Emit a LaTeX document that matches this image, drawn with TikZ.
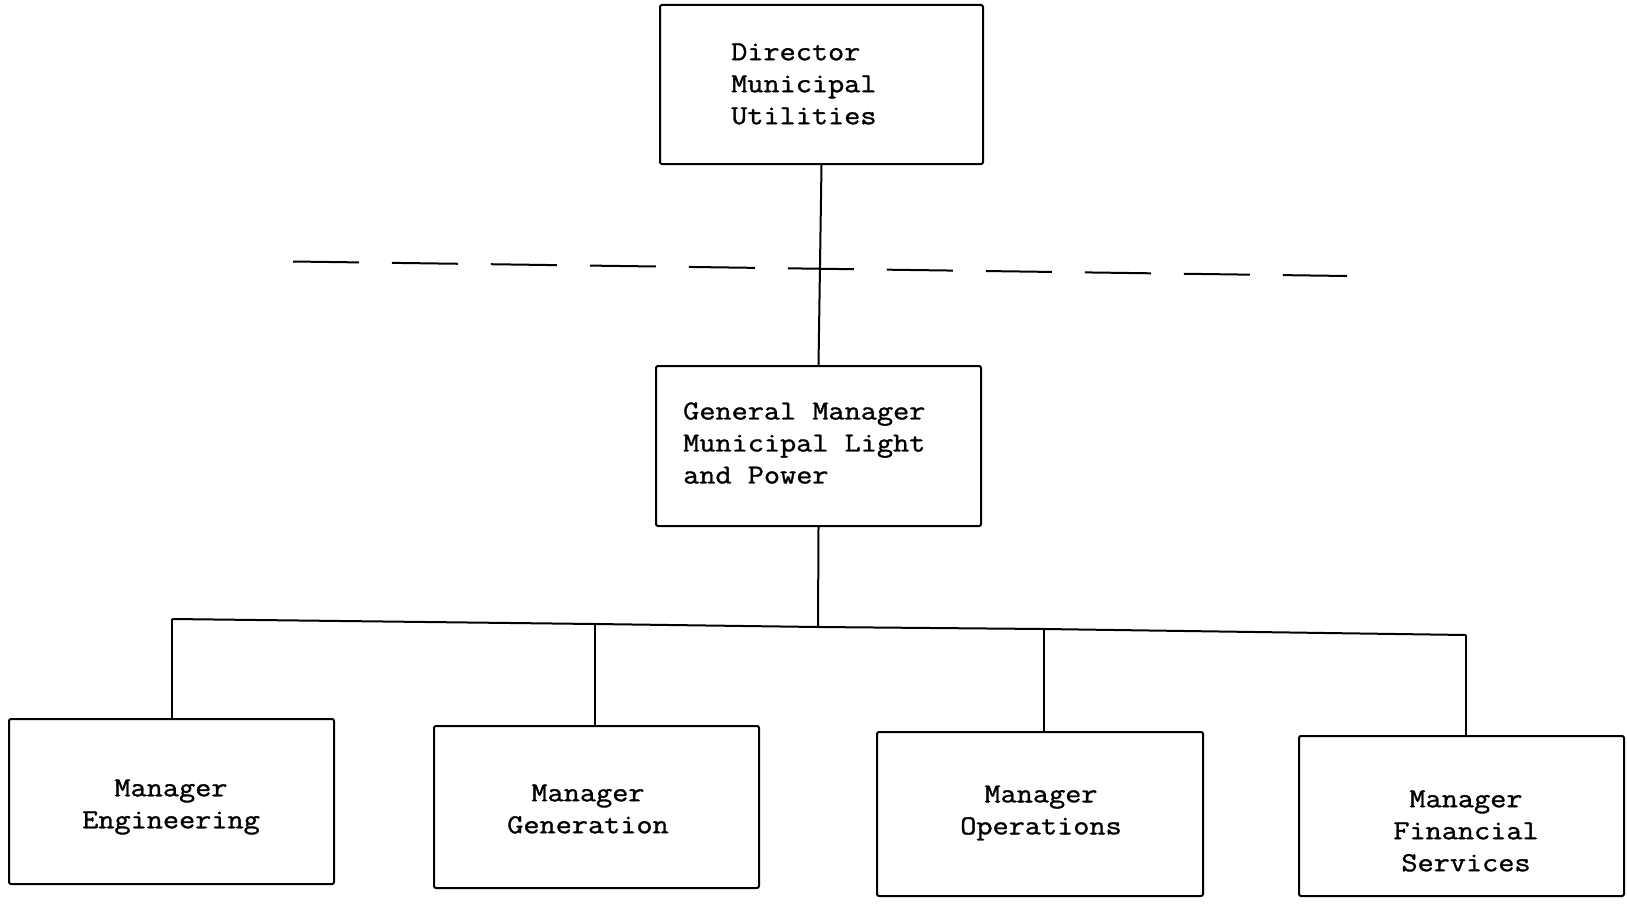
\documentclass[tikz,border=0pt]{standalone}
\usepackage{fontspec}
\newfontfamily\tw{Latin Modern Mono}[FakeStretch=1.14, FakeBold=1.2]
\begin{document}
\begin{tikzpicture}[x=1pt,y=-1pt,
  box/.style={draw, line width=2pt, rounded corners=2pt, inner sep=0pt, anchor=north west},
  txt/.style={font=\tw\fontsize{27.5}{32}\selectfont, inner sep=0pt},
  conn/.style={line width=2pt},
  dashline/.style={line width=2pt, dash pattern=on 66pt off 33pt}]
\useasboundingbox (0,0) rectangle (1627,907);
% boxes
\node[box, minimum width=323pt, minimum height=159pt] (dir) at (659,4) {};
\node[box, minimum width=325pt, minimum height=160pt] (gm) at (655,365) {};
\node[box, minimum width=325pt, minimum height=165pt] (eng) at (8,718) {};
\node[box, minimum width=325pt, minimum height=162pt] (gen) at (433,725) {};
\node[box, minimum width=326pt, minimum height=164pt] (ops) at (876,731) {};
\node[box, minimum width=325pt, minimum height=160pt] (fin) at (1298,735) {};
% texts
\node[txt, align=left, anchor=west] (dirT) at (731,84) {Director\\Municipal\\Utilities};
\node[txt, align=left, anchor=west] (gmT) at (683,443) {General Manager\\Municipal Light\\and Power};
\node[txt, align=center] (engT) at (171,807) {Manager\\Engineering};
\node[txt, align=center] (genT) at (588,809) {Manager\\Generation};
\node[txt, align=center] (opsT) at (1041,813) {Manager\\Operations};
\node[txt, align=center] (finT) at (1466,831) {Manager\\Financial\\Services};
% dashed boundary
\coordinate (dl) at (293,261.5);
\coordinate (dr) at (1347,276);
\draw[dashline] (dl) -- (dr);
% bus coordinates
\coordinate (b1) at (172,619);
\coordinate (b2) at (595,624);
\coordinate (bg) at (818,627);
\coordinate (b3) at (1044,629);
\coordinate (b4) at (1466,635);
% connectors
\draw[conn] (dir.south) -- (gm.north);
\draw[conn] (gm.south) -- (bg);
\draw[conn] (b1) -- (b2) -- (bg) -- (b3) -- (b4);
\draw[conn] (b1) -- (b1 |- eng.north);
\draw[conn] (b2) -- (b2 |- gen.north);
\draw[conn] (b3) -- (b3 |- ops.north);
\draw[conn] (b4) -- (b4 |- fin.north);
\end{tikzpicture}
\end{document}
